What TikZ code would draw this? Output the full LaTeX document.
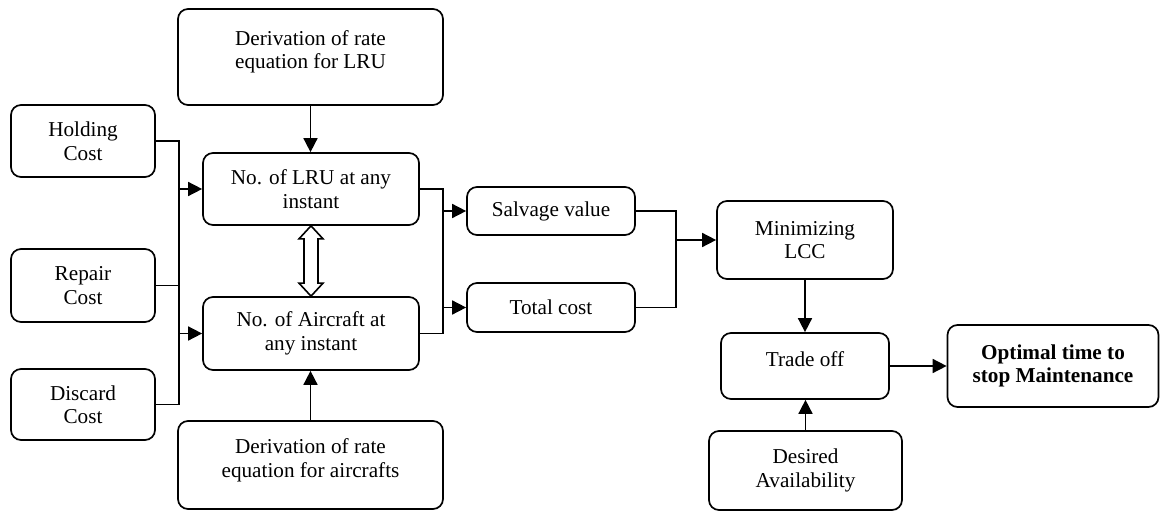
\documentclass[tikz,border=0pt]{standalone}
\usepackage{fontspec}
\setmainfont{Liberation Serif}
\usetikzlibrary{arrows.meta,calc}
\begin{document}
\begin{tikzpicture}[x=1pt,y=-1pt,
  box/.style={draw,line width=1.7pt,rounded corners=10pt,align=center,inner sep=0pt,
    font=\fontsize{21.2}{23.5}\selectfont},
  lbl/.style={align=center,font=\fontsize{21.2}{23.5}\selectfont},
  con/.style={line width=1.6pt},
  arr/.style={con,-{Triangle[length=14pt,width=14pt]}}]
\useasboundingbox (0,0) rectangle (1161,513);
% boxes
\node[box,minimum width=265pt,minimum height=96pt,
  label={[lbl,yshift=5pt]center:Derivation of rate\\equation for LRU}] (dlru) at (310.5,57) {};
\node[box,minimum width=216pt,minimum height=72pt] (lru) at (311,189) {No. of LRU at any\\instant};
\node[box,minimum width=216pt,minimum height=73pt] (air) at (311,333.5) {No. of Aircraft at\\any instant};
\node[box,minimum width=265pt,minimum height=88pt,
  label={[lbl,yshift=4.5pt]center:Derivation of rate\\equation for aircrafts}] (dair) at (310.5,465) {};
\node[box,minimum width=144pt,minimum height=72pt] (hold) at (83,141) {Holding\\Cost};
\node[box,minimum width=144pt,minimum height=73pt] (rep) at (83,285.5) {Repair\\Cost};
\node[box,minimum width=144pt,minimum height=71pt] (disc) at (83,404.5) {Discard\\Cost};
\node[box,minimum width=168pt,minimum height=48pt] (salv) at (551,211) {Salvage value};
\node[box,minimum width=168pt,minimum height=49pt] (tot) at (551,307.5) {Total cost};
\node[box,minimum width=176pt,minimum height=78pt] (minl) at (805,240) {Minimizing\\LCC};
\node[box,minimum width=168pt,minimum height=66pt,
  label={[lbl,yshift=7pt]center:Trade off}] (trade) at (805,366) {};
\node[box,minimum width=211pt,minimum height=82pt,font=\fontsize{21.2}{23.5}\selectfont\bfseries] (opt) at (1053,366) {Optimal time to\\stop Maintenance};
\node[box,minimum width=193pt,minimum height=79pt] (des) at (805.5,470.5) {Desired\\Availability};
% junction coordinates
\coordinate (lx) at (179,0);
\coordinate (mx) at (443,0);
\coordinate (rx) at (676,0);
% left bracket
\draw[con] (hold.east) -- (hold.east -| lx) -- (disc.east -| lx) -- (disc.east);
\draw[con] (rep.east) -- (rep.east -| lx);
\draw[arr] (lru.west -| lx) -- (lru.west);
\draw[arr] (air.west -| lx) -- (air.west);
% middle bracket
\draw[con] (lru.east) -- (lru.east -| mx) -- (air.east -| mx) -- (air.east);
\draw[arr] (salv.west -| mx) -- (salv.west);
\draw[arr] (tot.west -| mx) -- (tot.west);
% right bracket
\draw[con] (salv.east) -- (salv.east -| rx) -- (tot.east -| rx) -- (tot.east);
\draw[arr] (minl.west -| rx) -- (minl.west);
% vertical arrows
\draw[arr] (dlru.south) -- (dlru.south |- lru.north);
\draw[arr] (dair.north) -- (dair.north |- air.south);
\draw[arr] (minl.south) -- (trade.north);
\draw[arr] (des.north) -- (des.north |- trade.south);
\draw[arr] (trade.east) -- (opt.west);
% double hollow arrow
\draw[line width=1.6pt,fill=white] (lru.south) -- ++(12,13) -- ++(-5,0)
  -- ($(air.north)+(7,-13)$) -- ++(5,0) -- (air.north) -- ++(-12,-13) -- ++(5,0)
  -- ($(lru.south)+(-7,13)$) -- ++(-5,0) -- cycle;
\end{tikzpicture}
\end{document}
